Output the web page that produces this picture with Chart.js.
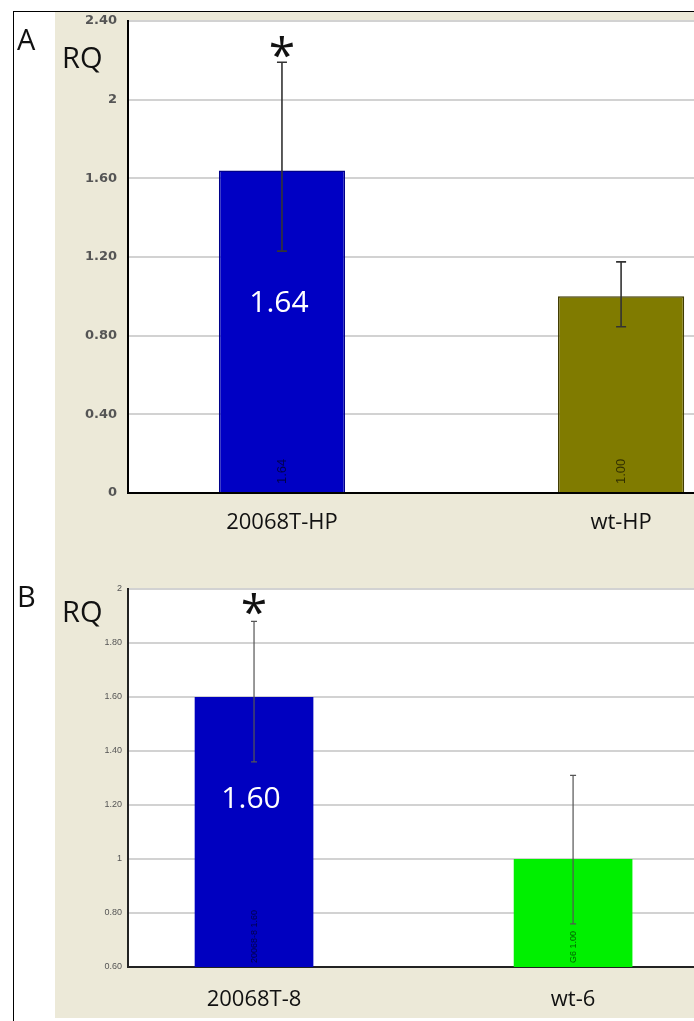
<!DOCTYPE html>
<html>
<head>
<meta charset="utf-8">
<script src="https://cdn.jsdelivr.net/npm/chart.js@4.4.1/dist/chart.umd.min.js"></script>
<style>
  html, body { margin: 0; padding: 0; background: #fff; width: 694px; height: 1021px; overflow: hidden; }
  #frame { position: absolute; left: 13px; top: 11px; width: 681px; height: 1010px;
           border-left: 1px solid #000; border-top: 1px solid #000; box-sizing: border-box; }
  .box { position: absolute; left: 0; width: 694px; }
  #boxA { top: 12px; height: 563px; }
  #boxB { top: 575px; height: 443px; }
</style>
</head>
<body>
<div id="frame"></div>
<div class="box" id="boxA"><canvas id="chartA"></canvas></div>
<div class="box" id="boxB"><canvas id="chartB"></canvas></div>
<script>
// Panel A: HP lines
const categoriesA = ['20068T-HP', 'wt-HP'];
const rqA = [1.64, 1.00];
const rqMinA = [1.23, 0.845];
const rqMaxA = [2.19, 1.175];
const barTagsA = ['1.64', '1.00'];
const significantA = [true, false];
const yTicksA = ['0', '0.40', '0.80', '1.20', '1.60', '2', '2.40'];

// Panel B: lines 8 and 6
const categoriesB = ['20068T-8', 'wt-6'];
const rqB = [1.60, 1.00];
const rqMinB = [1.36, 0.76];
const rqMaxB = [1.88, 1.31];
const barTagsB = ['20068-8 1.60', 'G6 1.00'];
const significantB = [true, false];
const yTicksB = ['0.60', '0.80', '1', '1.20', '1.40', '1.60', '1.80', '2'];

const BEIGE = '#ece9d8';

function makePanel(canvasId, p) {
  // beige panel, white plot, error bars, stars, value labels, panel letter and RQ title
  const decor = {
    id: 'rqDecor_' + canvasId,
    beforeDraw(chart) {
      const { ctx, chartArea: a, width, height } = chart;
      ctx.save();
      ctx.fillStyle = BEIGE;
      ctx.fillRect(55, 0, width - 55, height);
      ctx.fillStyle = '#fff';
      ctx.fillRect(a.left, a.top, a.right - a.left, a.bottom - a.top);
      ctx.restore();
    },
    afterDatasetsDraw(chart) {
      const ctx = chart.ctx;
      const ys = chart.scales.y;
      const floor = chart.chartArea.bottom;
      const meta = chart.getDatasetMeta(0);
      meta.data.forEach((bar, i) => {
        const x = bar.x;
        const base = Math.min(bar.base, floor);
        // small rotated tag at the foot of the bar
        ctx.save();
        ctx.translate(x, base - p.tagGap);
        ctx.rotate(-Math.PI / 2);
        ctx.font = p.tagFont;
        ctx.fillStyle = 'rgba(0,0,0,0.62)';
        ctx.textAlign = 'left';
        ctx.textBaseline = 'middle';
        ctx.fillText(p.tags[i], 0, 0);
        ctx.restore();

        // large value label inside significant bars
        if (p.stars[i]) {
          const v = p.values[i];
          const cy = bar.y + p.labelFrac * (base - bar.y);
          ctx.save();
          ctx.font = '30px "Open Sans"';
          ctx.fillStyle = '#fff';
          ctx.textAlign = 'center';
          ctx.textBaseline = 'alphabetic';
          const txt = v.toFixed(2);
          const m = ctx.measureText(txt);
          ctx.fillText(txt, x - 3, cy + (m.actualBoundingBoxAscent - m.actualBoundingBoxDescent) / 2);
          ctx.restore();
        }

        // error bar from RQmin to RQmax
        const yHi = ys.getPixelForValue(p.hi[i]);
        const yLo = ys.getPixelForValue(p.lo[i]);
        ctx.save();
        ctx.strokeStyle = p.errColor;
        ctx.lineWidth = p.errWidth;
        ctx.beginPath();
        ctx.moveTo(x, yHi); ctx.lineTo(x, yLo);
        ctx.moveTo(x - p.cap, yHi); ctx.lineTo(x + p.cap, yHi);
        ctx.moveTo(x - p.cap, yLo); ctx.lineTo(x + p.cap, yLo);
        ctx.stroke();
        ctx.restore();

        // significance star
        if (p.stars[i]) {
          ctx.save();
          ctx.font = '48px "Open Sans"';
          ctx.fillStyle = '#111';
          ctx.textAlign = 'center';
          ctx.textBaseline = 'alphabetic';
          const m = ctx.measureText('*');
          const cy = yHi - p.starGap;
          ctx.fillText('*', x, cy + (m.actualBoundingBoxAscent - m.actualBoundingBoxDescent) / 2);
          ctx.restore();
        }
      });
    },
    afterDraw(chart) {
      const ctx = chart.ctx;
      ctx.save();
      ctx.fillStyle = '#111';
      ctx.font = '29px "Open Sans"';
      ctx.textAlign = 'left';
      ctx.textBaseline = 'alphabetic';
      ctx.fillText(p.letter, 17, p.letterBase);
      ctx.fillText('RQ', 62, p.rqBase);
      ctx.restore();
    }
  };

  return new Chart(document.getElementById(canvasId), {
    type: 'bar',
    data: {
      datasets: [{
        data: p.values.map((v, i) => ({ x: i + 1, y: v })),
        backgroundColor: p.colors,
        borderColor: p.borders,
        borderWidth: p.borderWidth,
        barPercentage: 0.372,
        categoryPercentage: 1
      }]
    },
    options: {
      responsive: true,
      maintainAspectRatio: false,
      animation: false,
      events: [],
      layout: { padding: { top: p.padTop, left: 0, right: 0, bottom: 0 } },
      plugins: { legend: { display: false }, tooltip: { enabled: false } },
      scales: {
        x: {
          type: 'linear',
          min: p.xMin,
          max: p.xMax,
          offset: false,
          afterBuildTicks: s => { s.ticks = p.categories.map((c, i) => ({ value: i + 1 })); },
          afterFit: s => { s.height = p.xAxisHeight; },
          ticks: {
            autoSkip: false,
            maxRotation: 0,
            padding: p.xPad,
            color: '#111',
            font: { family: 'Open Sans', size: 22 },
            callback: v => p.categories[Math.round(v) - 1]
          },
          grid: { display: false },
          border: { display: true, color: p.axisColor, width: 2 }
        },
        y: {
          min: p.yMin,
          max: p.yMax,
          afterBuildTicks: s => { s.ticks = p.yTicks.map(t => ({ value: parseFloat(t) })); },
          afterFit: s => { s.width = 128; s.paddingTop = 0; s.paddingBottom = 0; },
          ticks: {
            padding: p.yPad,
            color: '#555',
            font: p.yFont,
            callback: (v, i) => p.yTicks[i]
          },
          grid: { color: '#d2d2d2', lineWidth: 2, drawTicks: false },
          border: { display: true, color: p.axisColor, width: 2 }
        }
      }
    },
    plugins: [decor]
  });
}

makePanel('chartA', {
  categories: categoriesA, values: rqA, lo: rqMinA, hi: rqMaxA,
  tags: barTagsA, stars: significantA, yTicks: yTicksA,
  colors: ['#0000c4', '#807b00'], borders: ['#00008a', '#403c00'], borderWidth: 1.5,
  xMin: 0.546, xMax: 2.215, yMin: 0, yMax: 2.4,
  padTop: 9, xAxisHeight: 82, xPad: 9, yPad: 11,
  yFont: { family: 'DejaVu Sans', size: 13, weight: 'bold' },
  axisColor: '#000', errColor: '#333', errWidth: 1.6, cap: 5, starGap: 15,
  tagFont: '13px "Liberation Sans"', tagGap: 8, labelFrac: 0.409,
  letter: 'A', letterBase: 38, rqBase: 56
});

makePanel('chartB', {
  categories: categoriesB, values: rqB, lo: rqMinB, hi: rqMaxB,
  tags: barTagsB, stars: significantB, yTicks: yTicksB,
  colors: ['#0000c0', '#00f000'], borders: ['#0000c0', '#00f000'], borderWidth: 0,
  xMin: 0.605, xMax: 2.379, yMin: 0.6, yMax: 2,
  padTop: 14, xAxisHeight: 51, xPad: 12, yPad: 6,
  yFont: { family: 'Liberation Sans', size: 9 },
  axisColor: '#222', errColor: '#555', errWidth: 1.2, cap: 3, starGap: 17,
  tagFont: '9px "Liberation Sans"', tagGap: 4, labelFrac: 0.374,
  letter: 'B', letterBase: 32, rqBase: 47
});
</script>
</body>
</html>
